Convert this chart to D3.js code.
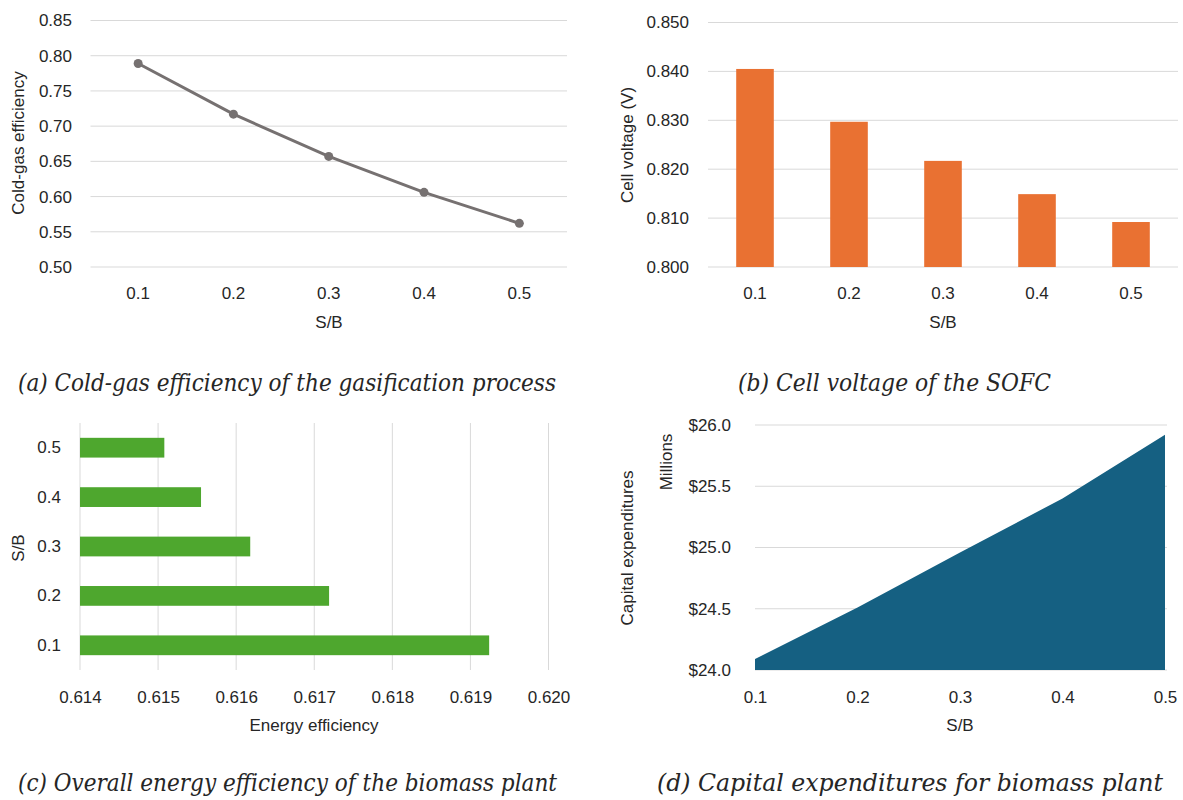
<!DOCTYPE html>
<html>
<head>
<meta charset="utf-8">
<script src="https://cdn.jsdelivr.net/npm/d3@7"></script>
<style>
  body { margin: 0; background: #fff; }
  svg text { font-family: "Liberation Sans", Arial, sans-serif; fill: #262626; }
  .cap { font-family: "DejaVu Serif Condensed", "DejaVu Serif", serif; font-stretch: condensed; font-style: italic; }
</style>
</head>
<body>
<svg id="fig" width="1183" height="800"></svg>
<script>
// S/B ratios shared by all four panels
const ratios = ["0.1", "0.2", "0.3", "0.4", "0.5"];

// (a) cold-gas efficiency
const coldGas = [0.789, 0.717, 0.657, 0.606, 0.562];
const coldGasTicks = [0.50, 0.55, 0.60, 0.65, 0.70, 0.75, 0.80, 0.85];

// (b) cell voltage
const voltage = [0.8405, 0.8297, 0.8217, 0.8149, 0.8092];
const voltageTicks = [0.800, 0.810, 0.820, 0.830, 0.840, 0.850];

// (c) energy efficiency
const energyEff = [0.61924, 0.61719, 0.61618, 0.61555, 0.61508];
const energyTicks = [0.614, 0.615, 0.616, 0.617, 0.618, 0.619, 0.620];

// (d) capital expenditures, millions
const capex = [24.09, 24.51, 24.96, 25.40, 25.92];
const capexTicks = [24.0, 24.5, 25.0, 25.5, 26.0];

const captions = [
  {t: "(a) Cold-gas efficiency of the gasification process", x: 18, y: 391, w: 538},
  {t: "(b) Cell voltage of the SOFC", x: 738, y: 391, w: 313},
  {t: "(c) Overall energy efficiency of the biomass plant", x: 18, y: 791, w: 539},
  {t: "(d) Capital expenditures for biomass plant", x: 657, y: 791, w: 506}
];

const svg = d3.select("#fig");
const grid = "#d9d9d9";
const fs = 17;

function tidy(g) {
  g.select(".domain").remove();
  g.selectAll("line").remove();
  g.selectAll("text").attr("font-size", fs).attr("fill", "#262626");
}

function xTitle(txt, x, y) {
  svg.append("text").attr("x", x).attr("y", y).attr("text-anchor", "middle")
    .attr("dominant-baseline", "central").attr("font-size", fs).text(txt);
}
function yTitle(txt, x, y) {
  svg.append("text").attr("transform", `translate(${x},${y}) rotate(-90)`)
    .attr("text-anchor", "middle").attr("dominant-baseline", "central")
    .attr("font-size", fs).text(txt);
}
function bottomLabels(g, off) {
  g.selectAll("text").attr("dy", null).attr("y", off).attr("dominant-baseline", "central");
}

// ---------- (a) line chart
{
  const x = d3.scaleBand().domain(ratios).range([90.5, 567]);
  const y = d3.scaleLinear().domain([0.5, 0.85]).range([267, 20.5]);
  svg.append("g").selectAll("line").data(coldGasTicks).join("line")
    .attr("x1", 90.5).attr("x2", 567).attr("y1", d => y(d)).attr("y2", d => y(d))
    .attr("stroke", grid);
  svg.append("g").attr("transform", "translate(90,0)")
    .call(d3.axisLeft(y).tickValues(coldGasTicks).tickFormat(d3.format(".2f")).tickSize(0).tickPadding(18))
    .call(tidy);
  svg.append("g").attr("transform", "translate(0,267)")
    .call(d3.axisBottom(x).tickSize(0)).call(tidy).call(g => bottomLabels(g, 26));
  const pts = ratios.map((r, i) => [x(r) + x.bandwidth() / 2, y(coldGas[i])]);
  svg.append("path").attr("d", d3.line()(pts)).attr("fill", "none")
    .attr("stroke", "#767171").attr("stroke-width", 3).attr("stroke-linejoin", "round");
  svg.append("g").selectAll("circle").data(pts).join("circle")
    .attr("cx", d => d[0]).attr("cy", d => d[1]).attr("r", 4.5).attr("fill", "#767171");
  xTitle("S/B", 329, 322);
  yTitle("Cold-gas efficiency", 18, 143);
}

// ---------- (b) column chart
{
  const x = d3.scaleBand().domain(ratios).range([708, 1178]).paddingInner(0.6).paddingOuter(0.3);
  const y = d3.scaleLinear().domain([0.8, 0.85]).range([267, 22.5]);
  svg.append("g").selectAll("line").data(voltageTicks).join("line")
    .attr("x1", 708).attr("x2", 1178).attr("y1", d => y(d)).attr("y2", d => y(d))
    .attr("stroke", grid);
  svg.append("g").attr("transform", "translate(708,0)")
    .call(d3.axisLeft(y).tickValues(voltageTicks).tickFormat(d3.format(".3f")).tickSize(0).tickPadding(19))
    .call(tidy);
  svg.append("g").attr("transform", "translate(0,267)")
    .call(d3.axisBottom(x).tickSize(0)).call(tidy).call(g => bottomLabels(g, 26));
  svg.append("g").selectAll("rect").data(ratios).join("rect")
    .attr("x", d => x(d)).attr("width", x.bandwidth())
    .attr("y", (d, i) => y(voltage[i])).attr("height", (d, i) => y(0.8) - y(voltage[i]))
    .attr("fill", "#E97132");
  xTitle("S/B", 943, 322);
  yTitle("Cell voltage (V)", 627, 145);
}

// ---------- (c) horizontal bar chart
{
  const x = d3.scaleLinear().domain([0.614, 0.620]).range([80, 548.5]);
  const y = d3.scaleBand().domain(ratios.slice().reverse()).range([423, 670]).paddingInner(0.6).paddingOuter(0.3);
  svg.append("g").selectAll("line").data(energyTicks).join("line")
    .attr("y1", 423).attr("y2", 670).attr("x1", d => x(d)).attr("x2", d => x(d))
    .attr("stroke", grid);
  svg.append("g").attr("transform", "translate(80,0)")
    .call(d3.axisLeft(y).tickSize(0).tickPadding(19)).call(tidy);
  svg.append("g").attr("transform", "translate(0,670)")
    .call(d3.axisBottom(x).tickValues(energyTicks).tickFormat(d3.format(".3f")).tickSize(0))
    .call(tidy).call(g => bottomLabels(g, 27));
  svg.append("g").selectAll("rect").data(ratios).join("rect")
    .attr("x", x(0.614)).attr("y", d => y(d)).attr("height", y.bandwidth())
    .attr("width", (d, i) => x(energyEff[i]) - x(0.614))
    .attr("fill", "#4EA72E");
  xTitle("Energy efficiency", 314, 725);
  yTitle("S/B", 18, 548);
}

// ---------- (d) area chart
{
  const x = d3.scalePoint().domain(ratios).range([755, 1165]);
  const y = d3.scaleLinear().domain([24, 26]).range([670, 425]);
  svg.append("g").selectAll("line").data(capexTicks).join("line")
    .attr("x1", 755).attr("x2", 1167).attr("y1", d => y(d)).attr("y2", d => y(d))
    .attr("stroke", grid);
  svg.append("g").attr("transform", "translate(755,0)")
    .call(d3.axisLeft(y).tickValues(capexTicks).tickFormat(d3.format("$.1f")).tickSize(0).tickPadding(24))
    .call(tidy);
  svg.append("g").attr("transform", "translate(0,670)")
    .call(d3.axisBottom(x).tickSize(0)).call(tidy).call(g => bottomLabels(g, 27));
  const area = d3.area().x((d, i) => x(ratios[i])).y0(y(24)).y1(d => y(d));
  svg.append("path").attr("d", area(capex)).attr("fill", "#156082");
  xTitle("S/B", 960, 725);
  yTitle("Millions", 666, 462);
  yTitle("Capital expenditures", 627, 548);
}

// ---------- captions
svg.append("g").selectAll("text").data(captions).join("text")
  .attr("class", "cap").attr("x", d => d.x).attr("y", d => d.y)
  .attr("font-size", 25).attr("fill", "#111")
  .attr("textLength", d => d.w).attr("lengthAdjust", "spacingAndGlyphs")
  .text(d => d.t);
</script>
</body>
</html>
